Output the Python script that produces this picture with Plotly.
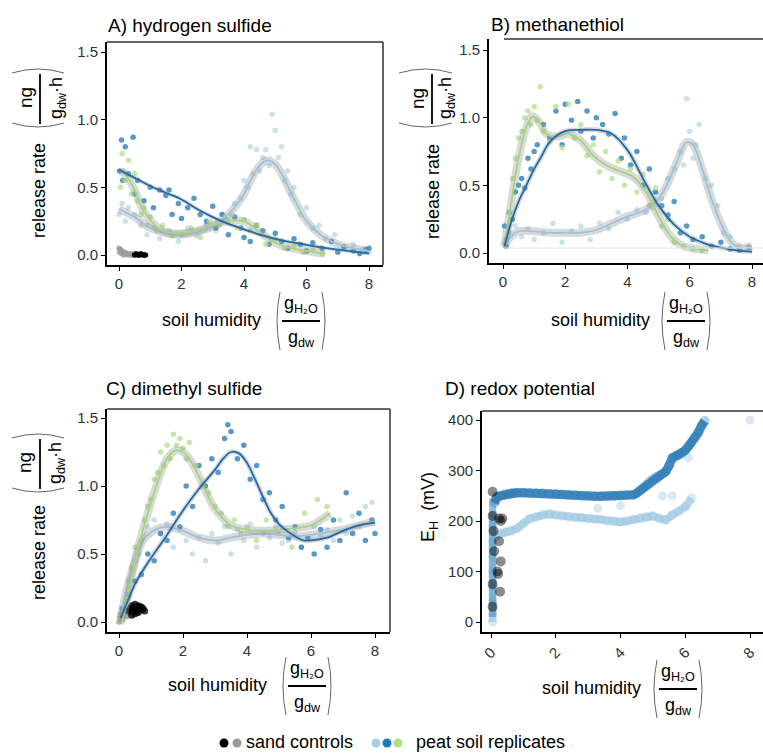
import plotly.graph_objects as go

W, H = 763, 754
FONT = "Liberation Sans, Arial, Helvetica, sans-serif"
LB, DB, GR = "#a6cee3", "#1f78b4", "#b2df8a"
BK, GY = "#000000", "#9a9a9a"

# ---------------- A) hydrogen sulfide ----------------
a_db_x = [0.02,0.08,0.12,0.2,0.3,0.45,0.5,0.6,0.8,1.0,1.1,1.3,1.5,1.6,1.7,1.9,2.0,2.2,2.4,2.6,2.8,3.0,3.1,3.3,3.5,3.7,3.9,4.0,4.2,4.4,4.6,4.8,5.0,5.2,5.4,5.6,5.8,6.0,6.2,6.5,6.8,7.0,7.2,7.5,7.7,7.9,8.0]
a_db_y = [0.62,0.85,0.55,0.8,0.6,0.87,0.45,0.55,0.4,0.5,0.35,0.48,0.44,0.48,0.3,0.38,0.27,0.35,0.42,0.3,0.25,0.36,0.2,0.3,0.15,0.28,0.2,0.13,0.1,0.22,0.18,0.08,0.16,0.1,0.05,0.12,0.08,0.03,0.09,0.05,0.1,0.02,0.06,0.03,0.01,0.04,0.05]
a_lb_x = [0.0,0.1,0.2,0.3,0.5,0.7,0.9,1.1,1.3,1.6,1.9,2.2,2.5,2.8,3.1,3.3,3.5,3.7,3.9,4.0,4.1,4.2,4.3,4.4,4.5,4.6,4.7,4.8,4.9,5.0,5.1,5.2,5.3,5.4,5.5,5.6,5.8,6.0,6.2,6.4,6.6,6.9,7.2,7.5,7.8,8.0]
a_lb_y = [0.3,0.38,0.25,0.35,0.3,0.22,0.15,0.2,0.12,0.18,0.1,0.2,0.14,0.22,0.18,0.3,0.25,0.38,0.42,0.55,0.5,0.8,0.6,0.78,0.62,0.72,0.78,0.66,1.04,0.92,0.72,0.8,0.55,0.62,0.45,0.5,0.3,0.35,0.2,0.22,0.12,0.15,0.06,0.08,0.04,0.02]
a_gr_x = [0.05,0.1,0.15,0.2,0.3,0.4,0.5,0.6,0.7,0.8,0.9,1.0,1.2,1.4,1.7,2.0,2.3,2.6,2.9,3.2,3.4,3.6,3.8,4.0,4.2,4.4,4.7,5.0,5.3,5.6,5.9,6.2,6.5]
a_gr_y = [0.5,0.75,0.62,0.55,0.7,0.45,0.6,0.4,0.3,0.35,0.22,0.28,0.18,0.22,0.14,0.15,0.2,0.13,0.25,0.22,0.28,0.3,0.2,0.26,0.18,0.22,0.08,0.12,0.05,0.07,0.02,0.04,0.01]
a_sgy_x = [0.0,0.02,0.05,0.08,0.1,0.15,0.2,0.25,0.3,0.35,0.4,0.45,0.5]
a_sgy_y = [0.05,0.02,0.04,0.01,0.03,0.0,0.02,0.01,0.0,0.01,0.0,0.01,0.0]
a_sbk_x = [0.5,0.55,0.6,0.65,0.7,0.75,0.8,0.85]
a_sbk_y = [0.0,0.01,0.0,0.0,0.01,0.0,0.0,0.0]
a_db_fx = [0,0.5,1,1.5,2,2.5,3,3.5,4,4.5,5,5.5,6,6.5,7,7.5,8]
a_db_fy = [0.63,0.57,0.51,0.46,0.41,0.34,0.28,0.23,0.19,0.15,0.12,0.095,0.075,0.055,0.04,0.025,0.012]
a_lb_fx = [0,0.25,0.5,1,1.5,2,2.5,3,3.5,4,4.25,4.5,4.75,5,5.25,5.5,5.75,6,6.5,7,7.5,8]
a_lb_fy = [0.34,0.31,0.28,0.2,0.16,0.15,0.17,0.21,0.3,0.45,0.57,0.66,0.7,0.67,0.58,0.46,0.35,0.25,0.14,0.08,0.05,0.03]
a_gr_fx = [0.05,0.25,0.5,0.75,1,1.25,1.5,2,2.5,3,3.5,4,4.5,5,5.5,6,6.6]
a_gr_fy = [0.62,0.58,0.48,0.34,0.26,0.2,0.17,0.16,0.18,0.22,0.25,0.25,0.17,0.09,0.05,0.03,0.01]

# ---------------- B) methanethiol ----------------
b_db_x = [0.05,0.1,0.2,0.3,0.4,0.5,0.6,0.7,0.8,0.9,1.0,1.1,1.3,1.5,1.7,1.9,2.0,2.2,2.4,2.5,2.7,2.9,3.0,3.2,3.4,3.6,3.8,3.9,4.1,4.3,4.5,4.7,4.9,5.1,5.3,5.5,5.7,5.9,6.1,6.4,6.7,7.0,7.3,7.6,7.9]
b_db_y = [0.2,0.05,0.3,0.25,0.45,0.5,0.55,0.48,0.7,0.62,0.75,0.8,0.95,0.85,1.05,0.8,1.1,0.98,1.12,0.9,1.05,0.85,1.0,0.95,0.88,1.03,0.7,0.85,0.65,0.75,0.5,0.62,0.45,0.35,0.28,0.38,0.15,0.2,0.1,0.12,0.05,0.08,0.03,0.02,0.04]
b_gr_x = [0.1,0.2,0.3,0.4,0.5,0.6,0.7,0.8,0.9,1.0,1.1,1.2,1.3,1.5,1.7,1.9,2.1,2.3,2.5,2.7,2.9,3.1,3.3,3.5,3.7,3.9,4.1,4.3,4.5,4.7,4.9,5.1,5.3,5.5,5.8,6.1,6.4]
b_gr_y = [0.1,0.3,0.55,0.7,0.85,0.9,1.0,1.05,0.95,1.08,0.98,1.23,0.9,0.82,1.08,0.78,1.1,0.85,0.95,0.72,0.8,0.6,0.75,0.55,0.68,0.5,0.62,0.45,0.58,0.35,0.48,0.2,0.25,0.08,0.05,0.03,0.02]
b_lb_x = [0.1,0.2,0.4,0.6,0.8,1.0,1.3,1.6,1.9,2.2,2.5,2.8,3.1,3.4,3.7,4.0,4.3,4.6,4.9,5.1,5.3,5.5,5.7,5.8,5.9,6.0,6.1,6.2,6.3,6.5,6.7,6.9,7.1,7.3,7.6,7.9]
b_lb_y = [0.05,0.15,0.2,0.12,0.18,0.1,0.15,0.22,0.08,0.16,0.2,0.1,0.22,0.18,0.3,0.25,0.32,0.3,0.45,0.4,0.55,0.62,0.75,0.65,1.14,0.9,0.7,0.8,0.95,0.55,0.5,0.35,0.15,0.12,0.05,0.04]
b_db_fx = [0.05,0.25,0.5,0.75,1,1.25,1.5,2,2.5,3,3.5,4,4.5,5,5.5,6,6.5,7,7.5,8]
b_db_fy = [0.05,0.22,0.38,0.5,0.62,0.72,0.82,0.9,0.91,0.91,0.88,0.76,0.55,0.35,0.21,0.12,0.07,0.04,0.02,0.01]
b_gr_fx = [0.05,0.25,0.5,0.75,0.95,1.15,1.4,1.75,2.1,2.5,2.9,3.3,3.7,4.2,4.6,5,5.4,5.8,6.2,6.6]
b_gr_fy = [0.05,0.35,0.7,0.93,1.01,0.97,0.88,0.86,0.88,0.83,0.72,0.65,0.61,0.56,0.45,0.27,0.12,0.05,0.03,0.02]
b_lb_fx = [0.05,0.25,0.5,1,1.5,2,2.5,3,3.5,4,4.5,5,5.3,5.6,5.9,6.1,6.4,6.7,7,7.3,7.6,8]
b_lb_fy = [0.05,0.12,0.16,0.16,0.15,0.15,0.15,0.17,0.22,0.27,0.31,0.4,0.52,0.68,0.82,0.8,0.62,0.4,0.22,0.09,0.04,0.05]

# ---------------- C) dimethyl sulfide ----------------
c_db_x = [0.1,0.3,0.5,0.7,0.9,1.1,1.3,1.5,1.7,1.9,2.1,2.3,2.5,2.7,2.9,3.1,3.3,3.4,3.5,3.7,3.9,4.1,4.3,4.5,4.7,4.9,5.1,5.3,5.5,5.7,5.9,6.1,6.3,6.5,6.7,6.9,7.1,7.3,7.5,7.7,7.9,8.0]
c_db_y = [0.1,0.2,0.3,0.35,0.5,0.45,0.65,0.6,0.8,0.7,1.0,0.85,1.15,1.0,1.2,1.1,1.35,1.45,1.4,1.2,1.3,1.05,1.15,0.9,0.95,0.75,0.85,0.62,0.7,0.55,0.62,0.5,0.68,0.55,0.75,0.6,0.95,0.65,0.8,0.6,0.75,0.65]
c_gr_x = [0.1,0.2,0.3,0.4,0.5,0.6,0.7,0.8,0.9,1.0,1.1,1.2,1.3,1.4,1.5,1.6,1.7,1.8,1.9,2.0,2.1,2.2,2.4,2.6,2.8,3.0,3.2,3.4,3.6,3.8,4.0,4.3,4.6,5.0,5.4,5.8,6.2,6.5]
c_gr_y = [0.0,0.15,0.3,0.4,0.55,0.5,0.6,0.75,0.85,0.9,1.05,1.1,1.25,1.15,1.3,1.2,1.38,1.3,1.35,1.28,1.2,1.32,1.15,1.0,0.95,0.85,0.8,0.7,0.75,0.65,0.7,0.6,0.75,0.65,0.55,0.8,0.9,0.85]
c_lb_x = [0.1,0.3,0.5,0.7,0.9,1.1,1.3,1.5,1.7,1.9,2.1,2.3,2.5,2.7,2.9,3.1,3.3,3.5,3.7,3.9,4.1,4.3,4.5,4.7,4.9,5.1,5.3,5.5,5.7,5.9,6.1,6.3,6.5,6.7,6.9,7.1,7.3,7.5,7.7,7.9]
c_lb_y = [0.05,0.3,0.45,0.6,0.7,0.75,0.65,0.72,0.55,0.68,0.6,0.5,0.62,0.45,0.65,0.58,0.7,0.5,0.68,0.6,0.72,0.55,0.65,0.62,0.7,0.58,0.6,0.66,0.55,0.62,0.7,0.64,0.68,0.6,0.75,0.65,0.78,0.7,0.85,0.88]
c_sbk_x = [0.3,0.35,0.4,0.45,0.5,0.55,0.6,0.65,0.7,0.75,0.8,0.5,0.6,0.7,0.4,0.55]
c_sbk_y = [0.08,0.1,0.12,0.09,0.13,0.1,0.07,0.11,0.09,0.1,0.08,0.06,0.12,0.11,0.05,0.08]
c_sgy_x = [0.0,0.02,0.05,0.1,0.15,0.2,0.25,0.3]
c_sgy_y = [0.0,0.03,0.06,0.02,0.05,0.08,0.04,0.06]
c_db_fx = [0.05,0.25,0.5,0.75,1,1.5,2,2.5,3,3.25,3.5,3.75,4,4.25,4.5,4.75,5,5.25,5.5,5.75,6,6.5,7,7.5,8]
c_db_fy = [0.03,0.14,0.28,0.38,0.47,0.64,0.82,0.98,1.12,1.2,1.25,1.24,1.17,1.05,0.92,0.8,0.72,0.67,0.63,0.6,0.6,0.62,0.67,0.71,0.73]
c_gr_fx = [0.1,0.3,0.5,0.75,1,1.25,1.5,1.75,2,2.25,2.5,2.75,3,3.25,3.5,4,4.5,5,5.5,6,6.3,6.6]
c_gr_fy = [0.0,0.22,0.45,0.68,0.88,1.06,1.2,1.26,1.25,1.18,1.07,0.94,0.83,0.76,0.71,0.68,0.67,0.68,0.69,0.71,0.75,0.8]
c_lb_fx = [0.05,0.25,0.5,0.75,1,1.25,1.5,2,2.5,3,3.5,4,4.5,5,5.5,6,6.5,7,7.5,8]
c_lb_fy = [0.03,0.25,0.45,0.6,0.66,0.69,0.7,0.67,0.62,0.6,0.62,0.64,0.65,0.64,0.63,0.64,0.66,0.68,0.71,0.74]

# ---------------- D) redox potential ----------------
d_db_x = [0.1,0.15,0.2,0.3,0.4,0.5,0.6,0.7,0.8,1.0,1.2,1.4,1.6,1.8,2.0,2.2,2.4,2.6,2.8,3.0,3.2,3.4,3.6,3.8,4.0,4.2,4.4,4.5,4.6,4.7,4.8,4.9,5.0,5.1,5.2,5.3,5.4,5.5,5.6,5.7,5.8,5.9,6.0,6.1,6.2,6.3,6.4,6.5,6.6]
d_db_y = [235,245,248,250,252,254,255,256,256,256,255,255,255,254,254,253,252,251,250,250,249,249,249,249,250,251,252,255,260,266,272,278,283,287,290,294,298,310,325,328,331,334,340,348,356,365,375,388,398]
d_db_col_x = [0.05,0.05,0.05,0.05,0.05,0.05,0.05,0.05,0.05,0.05]
d_db_col_y = [10,30,50,80,110,140,170,200,225,245]
d_lb_x = [0.15,0.3,0.45,0.6,0.8,1.0,1.2,1.4,1.6,1.8,2.0,2.2,2.4,2.6,2.8,3.0,3.2,3.4,3.6,3.8,4.0,4.2,4.4,4.6,4.8,5.0,5.2,5.4,5.6,5.8,6.0,6.2]
d_lb_y = [170,175,178,180,185,195,205,208,213,214,212,210,208,207,206,205,204,203,200,199,198,200,203,206,208,210,205,202,212,218,228,245]
d_lb_out_x = [3.3,4.0,5.3,5.6,6.1,8.0]
d_lb_out_y = [225,230,250,250,325,400]
d_lb_col_x = [0.05,0.05,0.05,0.05,0.05,0.05,0.05,0.05,0.05]
d_lb_col_y = [0,15,40,70,100,130,160,190,215]
d_sbk_x = [0.05,0.05,0.05,0.05,0.08,0.1,0.2,0.25,0.25,0.3,0.3,0.22,0.35,0.28]
d_sbk_y = [258,210,75,30,180,140,100,160,205,120,200,95,205,60]

# tick labels
rate_ticks = [0, 0.5, 1.0, 1.5]
rate_labels = ["0.0", "0.5", "1.0", "1.5"]
hum_ticks = [0, 2, 4, 6, 8]
eh_ticks = [0, 100, 200, 300, 400]

def X(px):
    return px / W

def Y(py):
    return 1 - py / H

def xr(px0, px1, t0, t8):
    s = (t8 - t0) / 8
    return [(px0 - t0) / s, (px1 - t0) / s]

def yr(ptop, pbot, p0, p1, v1):
    s = (p0 - p1) / v1
    return [(p0 - pbot) / s, (p0 - ptop) / s]

fig = go.Figure()

def pts(x, y, color, op, ax, size=5.5):
    fig.add_trace(go.Scatter(x=x, y=y, mode="markers", xaxis=ax[0], yaxis=ax[1],
                             marker=dict(color=color, size=size, opacity=op, line=dict(width=0)),
                             showlegend=False, hoverinfo="skip"))

def band(x, y, color, width, ax):
    fig.add_trace(go.Scatter(x=x, y=y, mode="lines", xaxis=ax[0], yaxis=ax[1],
                             line=dict(color=color, width=width), showlegend=False, hoverinfo="skip"))

def fit(x, y, color, ax, bw=8):
    fig.add_trace(go.Scatter(x=x, y=y, mode="lines", xaxis=ax[0], yaxis=ax[1],
                             line=dict(color="rgba(150,150,150,0.35)", width=bw, shape="spline", smoothing=1.0),
                             showlegend=False, hoverinfo="skip"))
    fig.add_trace(go.Scatter(x=x, y=y, mode="lines", xaxis=ax[0], yaxis=ax[1],
                             line=dict(color=color, width=1.8, shape="spline", smoothing=1.0),
                             showlegend=False, hoverinfo="skip"))

A = ("x", "y"); B = ("x2", "y2"); C = ("x3", "y3"); D = ("x4", "y4")

# Panel A
pts(a_lb_x, a_lb_y, LB, 0.6, A); pts(a_db_x, a_db_y, DB, 0.75, A); pts(a_gr_x, a_gr_y, GR, 0.75, A)
pts(a_sgy_x, a_sgy_y, GY, 0.8, A); pts(a_sbk_x, a_sbk_y, BK, 0.9, A)
fit(a_lb_fx, a_lb_fy, "#9cc4dc", A); fit(a_gr_fx, a_gr_fy, "#a3d67c", A); fit(a_db_fx, a_db_fy, "#1f6aa8", A, bw=4)
# Panel B
pts(b_lb_x, b_lb_y, LB, 0.6, B); pts(b_db_x, b_db_y, DB, 0.75, B); pts(b_gr_x, b_gr_y, GR, 0.75, B)
fit(b_lb_fx, b_lb_fy, "#9cc4dc", B); fit(b_gr_fx, b_gr_fy, "#a3d67c", B); fit(b_db_fx, b_db_fy, "#1f6aa8", B, bw=5)
# Panel C
pts(c_lb_x, c_lb_y, LB, 0.6, C); pts(c_db_x, c_db_y, DB, 0.75, C); pts(c_gr_x, c_gr_y, GR, 0.75, C)
pts(c_sgy_x, c_sgy_y, GY, 0.8, C); pts(c_sbk_x, c_sbk_y, BK, 0.8, C, size=7)
fit(c_lb_fx, c_lb_fy, "#9cc4dc", C); fit(c_gr_fx, c_gr_fy, "#a3d67c", C); fit(c_db_fx, c_db_fy, "#1f6aa8", C, bw=5)
# Panel D
band(d_lb_col_x, d_lb_col_y, "rgba(143,191,220,0.55)", 8, D)
band(d_lb_x, d_lb_y, "rgba(166,206,227,0.75)", 8, D)
pts(d_lb_x, d_lb_y, "#8fbfdc", 0.3, D, size=10)
pts(d_lb_out_x, d_lb_out_y, "#8fbfdc", 0.35, D, size=9)
pts(d_lb_col_x, d_lb_col_y, "#8fbfdc", 0.35, D, size=9)
band(d_db_col_x, d_db_col_y, "rgba(42,122,181,0.45)", 7, D)
band(d_db_x, d_db_y, "rgba(42,122,181,0.85)", 9, D)
pts(d_db_x, d_db_y, "#2a7ab5", 0.35, D, size=10)
pts(d_sbk_x, d_sbk_y, BK, 0.45, D, size=10)

tickfont = dict(family=FONT, size=15, color="#333333")
def xaxis(dom, rng, anchor, angle=0):
    return dict(domain=[X(dom[0]), X(dom[1])], range=rng, anchor=anchor, showgrid=False, zeroline=False,
                showline=True, linecolor="black", linewidth=1.8, ticks="outside", ticklen=4, tickwidth=1,
                tickcolor="black", tickvals=hum_ticks, tickfont=tickfont, tickangle=angle, fixedrange=True)
def yaxis(dom, rng, anchor, vals, labels=None):
    d = dict(domain=[Y(dom[1]), Y(dom[0])], range=rng, anchor=anchor, showgrid=False, zeroline=False,
             showline=True, linecolor="black", linewidth=1.8, ticks="outside", ticklen=4, tickwidth=1,
             tickcolor="black", tickvals=vals, tickfont=tickfont, fixedrange=True)
    if labels:
        d["ticktext"] = labels
    return d

fig.update_layout(
    xaxis=xaxis((107, 383), xr(107, 383, 119, 369), "y"),
    yaxis=yaxis((42, 265), yr(42, 265, 255, 52, 1.5), "x", rate_ticks, rate_labels),
    xaxis2=xaxis((489, 763), xr(489, 763, 503, 752), "y2"),
    yaxis2=yaxis((39, 263), yr(39, 263, 253, 50, 1.5), "x2", rate_ticks, rate_labels),
    xaxis3=xaxis((107, 390), xr(107, 390, 119, 375), "y3"),
    yaxis3=yaxis((409, 632), yr(409, 632, 622, 418, 1.5), "x3", rate_ticks, rate_labels),
    xaxis4=xaxis((482, 763), xr(482, 763, 491, 750), "y4", angle=-45),
    yaxis4=yaxis((411, 632), yr(411, 632, 622, 420, 400), "x4", eh_ticks),
)

shapes = []
ann = []

def line(x0, y0, x1, y1, color="#333333", width=1.5):
    shapes.append(dict(type="line", xref="paper", yref="paper", x0=X(x0), y0=Y(y0), x1=X(x1), y1=Y(y1),
                       line=dict(color=color, width=width), layer="above"))

def curve(p0, c, p1, color="#666666", width=1):
    path = "M %f,%f Q %f,%f %f,%f" % (X(p0[0]), Y(p0[1]), X(c[0]), Y(c[1]), X(p1[0]), Y(p1[1]))
    shapes.append(dict(type="path", xref="paper", yref="paper", path=path, line=dict(color=color, width=width)))

def text(px, py, t, size=18, angle=0, xanchor="center", color="black"):
    ann.append(dict(x=X(px), y=Y(py), xref="paper", yref="paper", text=t, showarrow=False, textangle=angle,
                    xanchor=xanchor, yanchor="middle", font=dict(family=FONT, size=size, color=color)))

# panel frames (top/right borders)
line(107, 42, 383, 42); line(383, 42, 383, 265)
line(504, 39, 763, 39); line(504, 248, 763, 248, color="#e6e6e6", width=1)
line(107, 409, 390, 409); line(390, 409, 390, 632)
line(482, 411, 763, 411)

# titles
text(106, 26, "A) hydrogen sulfide", size=19, xanchor="left")
text(489, 25, "B) methanethiol", size=19, xanchor="left")
text(104, 389, "C) dimethyl sulfide", size=19, xanchor="left")
text(443, 389, "D) redox potential", size=19, xanchor="left")

def ytitle(rr_x, rr_y, lx, top, bot, ng_x, gd_x, bl, br):
    mid = (top + bot) / 2
    text(rr_x, rr_y, "release rate", angle=-90)
    text(ng_x, mid, "ng", size=19, angle=-90)
    text(gd_x, mid, "g<sub>dw</sub>·h", size=18, angle=-90)
    line(lx, top + 6, lx, bot - 4, color="black", width=1.8)
    curve((bl, top + 5), ((bl + br) / 2, top - 3), (br, top + 5))
    curve((bl, bot - 5), ((bl + br) / 2, bot + 3), (br, bot - 5))

ytitle(39, 191, 40, 68, 128, 25, 57, 12, 64)
ytitle(433, 192, 432, 68, 128, 417, 446, 399, 452)
ytitle(39, 553, 40, 433, 493, 25, 57, 12, 64)
text(429, 507, "E<sub>H</sub>  (mV)", angle=-90)

def xtitle(sh_x, cy, fx):
    text(sh_x, cy, "soil humidity")
    text(fx, cy - 16, "g<sub>H₂O</sub>")
    text(fx, cy + 18, "g<sub>dw</sub>")
    line(fx - 19, cy + 1, fx + 19, cy + 1, color="black", width=1.8)
    curve((fx - 21, cy - 28), (fx - 27, cy + 1), (fx - 21, cy + 30))
    curve((fx + 21, cy - 28), (fx + 27, cy + 1), (fx + 21, cy + 30))

xtitle(211, 320, 301)
xtitle(600, 320, 686)
xtitle(217, 685, 307)
xtitle(591, 688, 678)

# legend
for cx, col in [(224, BK), (237, GY), (376, LB), (387, DB), (398, GR)]:
    shapes.append(dict(type="circle", xref="paper", yref="paper", x0=X(cx - 4.5), x1=X(cx + 4.5),
                       y0=Y(743 + 4.5), y1=Y(743 - 4.5), fillcolor=col, line=dict(width=0)))
text(244, 742, "sand controls", size=18, xanchor="left")
text(414, 742, "peat soil replicates", size=18, xanchor="left")

fig.update_layout(width=W, height=H, margin=dict(l=0, r=0, t=0, b=0), paper_bgcolor="white",
                  plot_bgcolor="white", shapes=shapes, annotations=ann, showlegend=False,
                  font=dict(family=FONT))
fig.write_html("out.html")
